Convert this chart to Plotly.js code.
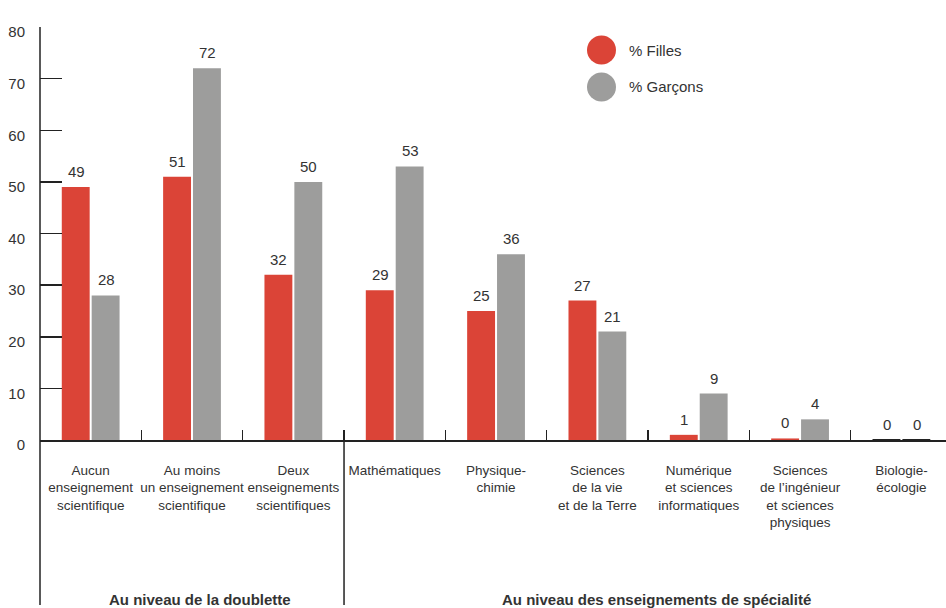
<!DOCTYPE html>
<html><head><meta charset="utf-8">
<script src="https://cdn.plot.ly/plotly-3.0.1.min.js"></script>
<style>html,body{margin:0;padding:0;background:#fff}#chart{width:946px;height:608px}</style>
</head><body><div id="chart"></div>
<script>
var categories = [
  "Aucun<br>enseignement<br>scientifique",
  "Au moins<br>un enseignement<br>scientifique",
  "Deux<br>enseignements<br>scientifiques",
  "Mathématiques",
  "Physique-<br>chimie",
  "Sciences<br>de la vie<br>et de la Terre",
  "Numérique<br>et sciences<br>informatiques",
  "Sciences<br>de l’ingénieur<br>et sciences<br>physiques",
  "Biologie-<br>écologie"
];
var fillesValues = [49, 51, 32, 29, 25, 27, 1, 0.3, 0];
var garconsValues = [28, 72, 50, 53, 36, 21, 9, 4, 0];
var seriesNames = ["% Filles", "% Garçons"];
var groupLabels = ["Au niveau de la doublette", "Au niveau des enseignements de spécialité"];
var yTicks = [0, 10, 20, 30, 40, 50, 60, 70, 80];

var FONT = "'Liberation Sans Narrow', 'Liberation Sans', Arial, sans-serif";
var TXT = "#333333";
var RED = "#DB4437";
var GRAY = "#9D9D9C";

function zeroLine(vals){ return vals.map(function(v){ return v === 0 ? 2 : 0; }); }

var traces = [
  {type: "bar", x: categories, y: fillesValues, name: seriesNames[0],
   marker: {color: RED, line: {color: "#222", width: zeroLine(fillesValues)}}, showlegend: false, hoverinfo: "y"},
  {type: "bar", x: categories, y: garconsValues, name: seriesNames[1],
   marker: {color: GRAY, line: {color: "#222", width: zeroLine(garconsValues)}}, showlegend: false, hoverinfo: "y"}
];

var W = 946, H = 608, L = 40, T = 27, B = 168;
var plotW = W - L, plotH = H - T - B;
function px(x){ return (x - L) / plotW; }
function py(y){ return (H - B - y) / plotH; }

var annotations = [];
categories.forEach(function(c, i) {
  annotations.push({x: c, y: fillesValues[i], xref: "x", yref: "y", text: String(Math.round(fillesValues[i])),
    showarrow: false, xshift: -14.6, yanchor: "bottom", yshift: 5, font: {family: FONT, size: 15, color: TXT}});
  annotations.push({x: c, y: garconsValues[i], xref: "x", yref: "y", text: String(Math.round(garconsValues[i])),
    showarrow: false, xshift: 15.4, yanchor: "bottom", yshift: 5, font: {family: FONT, size: 15, color: TXT}});
});
annotations.push({x: 1, y: py(599), xref: "x", yref: "paper", text: "<b>" + groupLabels[0] + "</b>", showarrow: false,
  xshift: 8, yanchor: "middle", font: {family: FONT, size: 15, color: TXT}});
annotations.push({x: 5.5, y: py(599), xref: "x", yref: "paper", text: "<b>" + groupLabels[1] + "</b>", showarrow: false,
  xshift: 8, yanchor: "middle", font: {family: FONT, size: 15, color: TXT}});
annotations.push({x: px(627), y: py(50), xref: "paper", yref: "paper", text: seriesNames[0], showarrow: false,
  xanchor: "left", yanchor: "middle", font: {family: FONT, size: 15, color: TXT}});
annotations.push({x: px(627), y: py(87), xref: "paper", yref: "paper", text: seriesNames[1], showarrow: false,
  xanchor: "left", yanchor: "middle", font: {family: FONT, size: 15, color: TXT}});

var shapes = [
  {type: "line", xref: "paper", yref: "paper", x0: 0, x1: 0, y0: py(605), y1: 1, line: {color: "#222", width: 1.5}},
  {type: "line", xref: "x", yref: "paper", x0: 2.5, x1: 2.5, y0: py(605), y1: py(430), line: {color: "#222", width: 1.5}},
  {type: "circle", xref: "paper", yref: "paper", x0: px(587), x1: px(616), y0: py(64.5), y1: py(35.5), fillcolor: RED, line: {width: 0}},
  {type: "circle", xref: "paper", yref: "paper", x0: px(587), x1: px(616), y0: py(101.5), y1: py(72.5), fillcolor: GRAY, line: {width: 0}}
];

var layout = {
  width: W, height: H,
  margin: {l: L, r: 0, t: T, b: B, pad: 0},
  paper_bgcolor: "#fff", plot_bgcolor: "#fff",
  barmode: "group", bargap: 0.41, bargroupgap: 0.067,
  font: {family: FONT, size: 13, color: TXT},
  xaxis: {
    type: "category", range: [-0.5, 8.44], showgrid: false, zeroline: false,
    showline: true, linecolor: "#222", linewidth: 1.5, tickangle: 0,
    ticks: "inside", tickson: "boundaries", ticklen: 10, tickcolor: "#222", tickwidth: 1.5,
    tickfont: {family: FONT, size: 13.5, color: TXT}, ticklabelstandoff: 17, fixedrange: true
  },
  yaxis: {
    range: [0, 80], tickvals: yTicks, ticktext: yTicks.map(String),
    showgrid: false, zeroline: false, showline: false,
    ticks: "inside", ticklen: 22, tickcolor: "#222", tickwidth: 1.5,
    tickfont: {family: FONT, size: 15, color: TXT}, ticklabelstandoff: 14, ticklabelshift: 5, fixedrange: true
  },
  annotations: annotations,
  shapes: shapes
};

Plotly.newPlot("chart", traces, layout, {displayModeBar: false, staticPlot: true});
</script></body></html>
